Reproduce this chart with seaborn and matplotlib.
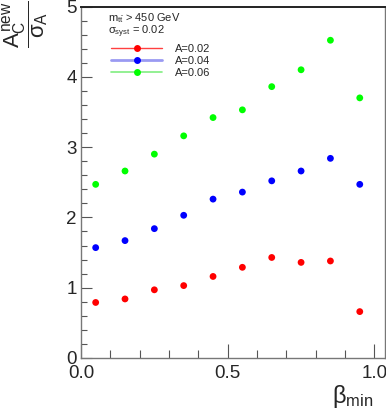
import numpy as np
import pandas as pd
import seaborn as sns
import matplotlib
matplotlib.use("Agg")
import matplotlib.pyplot as plt
from matplotlib.lines import Line2D
from matplotlib.ticker import MultipleLocator

beta_min = [0.05, 0.15, 0.25, 0.35, 0.45, 0.55, 0.65, 0.75, 0.85, 0.95]
sig_a002 = [0.79, 0.84, 0.97, 1.03, 1.16, 1.29, 1.43, 1.36, 1.38, 0.66]
sig_a004 = [1.57, 1.67, 1.84, 2.03, 2.26, 2.36, 2.52, 2.66, 2.84, 2.47]
sig_a006 = [2.47, 2.66, 2.90, 3.16, 3.42, 3.53, 3.86, 4.10, 4.52, 3.70]
series_names = ["A=0.02", "A=0.04", "A=0.06"]
series_colors = ["#ff0000", "#0000ff", "#00ff00"]

df = pd.DataFrame({
    "beta": beta_min * 3,
    "sig": sig_a002 + sig_a004 + sig_a006,
    "A": [series_names[0]] * 10 + [series_names[1]] * 10 + [series_names[2]] * 10,
})

sns.set_style("ticks")
plt.rcParams['font.family'] = ['Liberation Sans', 'DejaVu Sans']
plt.rcParams['mathtext.fontset'] = 'custom'
plt.rcParams['mathtext.rm'] = 'Liberation Sans'
plt.rcParams['mathtext.it'] = 'Liberation Sans'
plt.rcParams['mathtext.bf'] = 'Liberation Sans:bold'

fig = plt.figure(figsize=(3.86, 4.09), dpi=100)
ax = fig.add_axes([81 / 386, 1 - 358 / 409, 304 / 386, (358 - 6.5) / 409])

sns.scatterplot(data=df, x="beta", y="sig", hue="A", palette=series_colors,
                s=24, linewidth=0, legend=False, ax=ax)

ax.set_xlim(0, 1.036)
ax.set_ylim(0, 5)
ax.xaxis.set_major_locator(MultipleLocator(0.5))
ax.xaxis.set_minor_locator(MultipleLocator(0.1))
ax.yaxis.set_major_locator(MultipleLocator(1))
ax.yaxis.set_minor_locator(MultipleLocator(0.2))
ax.xaxis.set_major_formatter(matplotlib.ticker.FormatStrFormatter('%.1f'))
ax.tick_params(which='major', direction='in', length=8, width=0.8, color='#555555',
               labelsize=13.5, pad=3)
ax.tick_params(which='minor', direction='in', length=4, width=0.8, color='#555555')
ax.tick_params(axis='x', which='major', length=10, pad=5)
ax.tick_params(axis='x', which='minor', length=6)

for side in ['left', 'bottom', 'right']:
    ax.spines[side].set_color('#777777')
    ax.spines[side].set_linewidth(1.0)
ax.spines['top'].set_color('#222222')
ax.spines['top'].set_linewidth(1.4)

ax.set_xlabel("")
ax.set_ylabel("")
fig.text(373 / 386, -0.002, r'$\beta_{\mathrm{min}}$', fontsize=17, ha='right', va='bottom')
fig.text(0.0, 1 - 1 / 409, r'$\dfrac{A_{C}^{\mathrm{new}}}{\sigma_{A}}$', fontsize=16,
         rotation=90, ha='left', va='top')

ax.text(0.09, 0.968, r'm$_{t\bar{t}}$ > 450 GeV', transform=ax.transAxes,
        fontsize=8, va='center')
ax.text(0.09, 0.927, r'$\sigma_{\mathrm{syst}}$ = 0.02', transform=ax.transAxes,
        fontsize=8, va='center')

handles = [
    Line2D([], [], color='#ff4040', lw=1.0, marker='o', markersize=5,
           markerfacecolor=series_colors[0], markeredgewidth=0),
    Line2D([], [], color='#9a9af2', lw=2.0, marker='o', markersize=5,
           markerfacecolor=series_colors[1], markeredgewidth=0),
    Line2D([], [], color='#80ee80', lw=1.2, marker='o', markersize=5,
           markerfacecolor=series_colors[2], markeredgewidth=0),
]
leg = ax.legend(handles, series_names, loc='upper left', bbox_to_anchor=(0.085, 0.905),
                frameon=False, fontsize=8, handlelength=4.6, handletextpad=1.1,
                labelspacing=0.15, borderaxespad=0)

fig.savefig("out.png", dpi=100)
